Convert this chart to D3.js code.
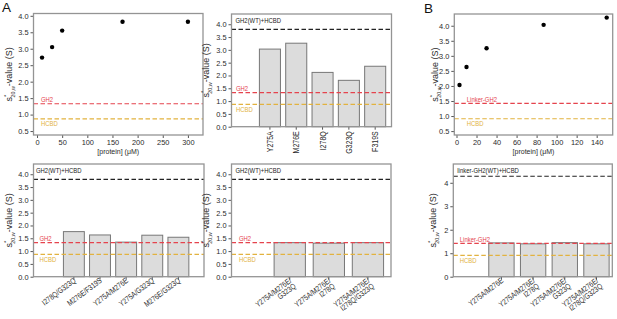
<!DOCTYPE html>
<html>
<head>
<meta charset="utf-8">
<script src="https://cdn.jsdelivr.net/npm/d3@7"></script>
<style>
  body { margin: 0; background: #fff; }
  svg { display: block; font-family: "Liberation Sans", Arial, sans-serif; }
</style>
</head>
<body>
<div id="chart"></div>
<script>
// concentration series (scatter panels)
const concA = [10, 30, 50, 170, 300];
const sedA = [2.73, 3.05, 3.55, 3.82, 3.82];
const concB = [3, 10, 30, 87, 150];
const sedB = [2.03, 2.63, 3.25, 4.03, 4.27];

// mutant bar panels
const singleMut = ["Y275A", "M276E", "I278Q", "G323Q", "F319S"];
const singleSed = [3.03, 3.26, 2.12, 1.81, 2.36];
const doubleMut = ["I278Q/G323Q", "M276E/F319S", "Y275A/M276E", "Y275A/G323Q", "M276E/G323Q"];
const doubleSed = [1.76, 1.63, 1.35, 1.62, 1.54];
const tripleMut = ["Y275A/M276E/\nG323Q", "Y275A/M276E/\nI278Q", "Y275A/M276E/\nI278Q/G323Q"];
const tripleSed = [1.33, 1.31, 1.33];
const linkerMut = ["Y275A/M276E", "Y275A/M276E/\nI278Q", "Y275A/M276E/\nG323Q", "Y275A/M276E/\nI278Q/G323Q"];
const linkerSed = [1.44, 1.40, 1.45, 1.40];

// reference levels: WT complex, free GH2, free HCBD
const refA = [3.80, 1.33, 0.87];
const refB = [4.28, 1.42, 0.91];
const refNamesA = ["GH2(WT)+HCBD", "GH2", "HCBD"];
const refNamesB = ["linker-GH2(WT)+HCBD", "Linker-GH2", "HCBD"];

// ticks
const xTicksA = [0, 50, 100, 150, 200, 250, 300];
const xTicksB = [0, 20, 40, 60, 80, 100, 120, 140];
const yTicksScatter = [0.5, 1.0, 1.5, 2.0, 2.5, 3.0, 3.5, 4.0];
const yTicksBar = [0, 0.5, 1.0, 1.5, 2.0, 2.5, 3.0, 3.5, 4.0];
const yTicksLinker = [0, 1, 2, 3, 4];

const W = 617, H = 319;
const red = "#e5434d", gold = "#e2b23f", frameCol = "#949494", txt = "#2b2b2b";
const refColors = ["#222", red, gold];
const narrow = 0.8; // horizontal squeeze, mimics the condensed label face

const svg = d3.select("#chart").append("svg")
    .attr("width", W)
    .attr("height", H);

function panel(box, xDomain, yDomain) {
    const x = d3.scaleLinear().domain(xDomain).range([box.left, box.right]);
    const y = d3.scaleLinear().domain(yDomain).range([box.bottom, box.top]);
    return { box, x, y, g: svg.append("g") };
}

function styleAxis(sel) {
    sel.select(".domain").remove();
    sel.selectAll(".tick line").attr("stroke", "#555");
    sel.selectAll(".tick text").attr("fill", txt).style("font-size", "7.4px");
}

function yAxis(p, ticks, fmt) {
    p.g.append("g")
        .attr("transform", `translate(${p.box.left},0)`)
        .call(d3.axisLeft(p.y).tickValues(ticks).tickFormat(fmt).tickSize(3).tickPadding(2))
        .call(styleAxis);
}

function frame(p) {
    p.g.append("rect")
        .attr("x", p.box.left).attr("y", p.box.top)
        .attr("width", p.box.right - p.box.left)
        .attr("height", p.box.bottom - p.box.top)
        .attr("fill", "none")
        .attr("stroke", frameCol)
        .attr("stroke-width", 1.3);
}

function yLabel(p, xPos) {
    const cy = (p.box.top + p.box.bottom) / 2;
    const t = p.g.append("text")
        .attr("transform", `translate(${xPos},${cy}) rotate(-90)`)
        .attr("text-anchor", "middle")
        .attr("fill", txt)
        .style("font-size", "9px");
    t.append("tspan").text("s");
    t.append("tspan").attr("dy", -3.8).style("font-size", "6px").text("*");
    t.append("tspan").attr("dx", -3).attr("dy", 6.5).style("font-size", "5.4px").text("20,w");
    t.append("tspan").attr("dy", -2.7).text("-value (S)");
}

function refLines(p, levels, names, offs) {
    levels.forEach((v, i) => {
        if (v == null) return;
        p.g.append("line")
            .attr("x1", p.box.left).attr("x2", p.box.right)
            .attr("y1", p.y(v)).attr("y2", p.y(v))
            .attr("stroke", refColors[i])
            .attr("stroke-width", 1.1)
            .attr("stroke-dasharray", "4.5,2.5");
    });
    levels.forEach((v, i) => {
        if (v == null) return;
        const ty = i === 0 ? p.box.top + 8.5 : (i === 1 ? p.y(v) - 1.8 : p.y(v) + 7.5);
        p.g.append("text")
            .attr("transform", `translate(${p.box.left + offs[i]},${ty}) scale(${narrow},1)`)
            .attr("fill", refColors[i])
            .style("font-size", "7.4px")
            .text(names[i]);
    });
}

function scatterPanel(box, xDomain, yDomain, xs, ys, xTicks, levels, names, offs, labX) {
    const p = panel(box, xDomain, yDomain);
    refLines(p, levels, names, offs);
    p.g.append("g").selectAll("circle")
        .data(xs.map((d, i) => [d, ys[i]]))
        .join("circle")
        .attr("cx", d => p.x(d[0]))
        .attr("cy", d => p.y(d[1]))
        .attr("r", 2.2)
        .attr("fill", "#000");
    yAxis(p, yTicksScatter, d3.format(".1f"));
    p.g.append("g")
        .attr("transform", `translate(0,${box.bottom})`)
        .call(d3.axisBottom(p.x).tickValues(xTicks).tickFormat(d3.format("d")).tickSize(3).tickPadding(2))
        .call(styleAxis);
    p.g.append("text")
        .attr("x", (box.left + box.right) / 2)
        .attr("y", box.bottom + 19)
        .attr("text-anchor", "middle")
        .attr("fill", txt)
        .style("font-size", "7px")
        .text("[protein] (\u03bcM)");
    frame(p);
    yLabel(p, labX);
}

function barPanel(box, xDomain, yDomain, cats, vals, yTicks, yFmt, levels, names, offs, labX, angle) {
    const p = panel(box, xDomain, yDomain);
    const bw = (p.x(1) - p.x(0)) * 0.8;
    p.g.append("g").selectAll("rect")
        .data(vals)
        .join("rect")
        .attr("x", (d, i) => p.x(i + 1) - bw / 2)
        .attr("y", d => p.y(d))
        .attr("width", bw)
        .attr("height", d => p.y(0) - p.y(d))
        .attr("fill", "#dcdcdc")
        .attr("stroke", "#777")
        .attr("stroke-width", 1);
    refLines(p, levels, names, offs);
    yAxis(p, yTicks, yFmt);

    // category ticks and labels
    const xg = p.g.append("g");
    cats.forEach((c, i) => {
        const cx = p.x(i + 1);
        xg.append("line")
            .attr("x1", cx).attr("x2", cx)
            .attr("y1", box.bottom).attr("y2", box.bottom + 3)
            .attr("stroke", "#555");
        const lines = c.split("\n");
        const t = xg.append("text")
            .attr("text-anchor", "end")
            .attr("fill", txt)
            .style("font-size", angle === -90 ? "8.8px" : "8px");
        if (angle === -90) {
            t.attr("transform", `translate(${cx + 3},${box.bottom + 4.5}) rotate(-90) scale(${narrow},1)`);
        } else {
            t.attr("transform", `translate(${cx + 2.5},${box.bottom + 5}) rotate(${angle}) scale(${narrow},1)`);
        }
        lines.forEach((ln, j) => {
            t.append("tspan").attr("x", 0).attr("dy", j === 0 ? 0 : 7).text(ln);
        });
    });
    frame(p);
    yLabel(p, labX);
}

// A, top-left: concentration series
scatterPanel({ left: 33.5, right: 203, top: 13.5, bottom: 135 }, [-7, 330], [0.38, 4.07],
    concA, sedA, xTicksA, [null, refA[1], refA[2]], refNamesA, [0, 7.5, 7.5], 12);

// A, top-middle: single mutants
barPanel({ left: 231.5, right: 391.5, top: 14, bottom: 126.7 }, [-0.46, 5.62], [0, 4.4],
    singleMut, singleSed, yTicksBar, d3.format(".1f"), refA, refNamesA, [4, 4.5, 4.5], 209, -90);

// B, top-right: linker concentration series
scatterPanel({ left: 454.3, right: 612.7, top: 14, bottom: 135 }, [-2.2, 156], [0.37, 4.39],
    concB, sedB, xTicksB, [null, refB[1], refB[2]], refNamesB, [0, 12.5, 12.5], 438);

// A, bottom-left: double mutants
barPanel({ left: 33.5, right: 204, top: 164, bottom: 276.7 }, [-0.545, 5.98], [0, 4.4],
    doubleMut, doubleSed, yTicksBar, d3.format(".1f"), refA, refNamesA, [2.5, 6, 6], 12, -37);

// A, bottom-middle: triple/quadruple mutants
barPanel({ left: 231.5, right: 391, top: 164, bottom: 276.7 }, [-0.49, 3.59], [0, 4.4],
    tripleMut, tripleSed, yTicksBar, d3.format(".1f"), refA, refNamesA, [4, 7.5, 7.5], 209, -37);

// B, bottom-right: linker mutants
barPanel({ left: 453.3, right: 612.3, top: 164, bottom: 276.7 }, [-0.52, 4.5], [0, 4.8],
    linkerMut, linkerSed, yTicksLinker, d3.format("d"), refB, refNamesB, [4, 6.5, 6.5], 436, -37);

// panel letters
svg.append("text").attr("x", 2).attr("y", 12).style("font-size", "13.5px").attr("fill", "#111").text("A");
svg.append("text").attr("x", 424).attr("y", 13).style("font-size", "13.5px").attr("fill", "#111").text("B");
</script>
</body>
</html>
